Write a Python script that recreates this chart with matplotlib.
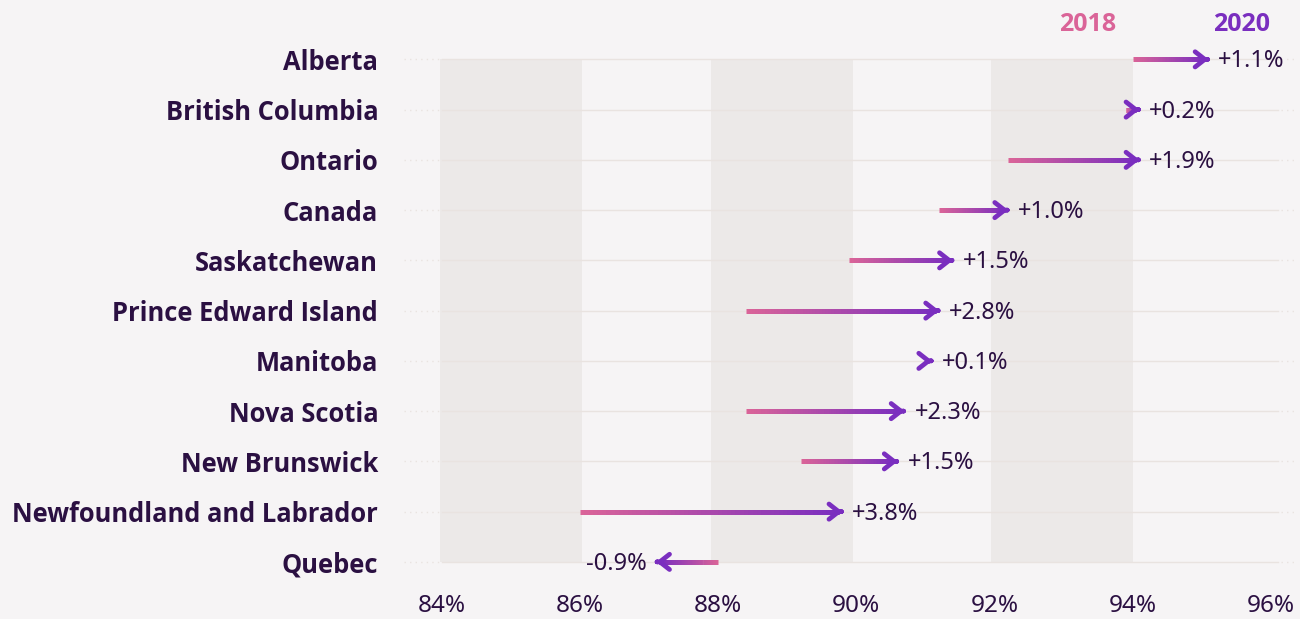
import numpy as np
import matplotlib
matplotlib.use("Agg")
import matplotlib.pyplot as plt
from matplotlib.collections import LineCollection
from matplotlib.colors import LinearSegmentedColormap

# data (share, %), top row first
regions = ["Alberta", "British Columbia", "Ontario", "Canada", "Saskatchewan",
           "Prince Edward Island", "Manitoba", "Nova Scotia", "New Brunswick",
           "Newfoundland and Labrador", "Quebec"]
val_2018 = [94.0, 93.9, 92.2, 91.2, 89.9, 88.4, 91.0, 88.4, 89.2, 86.0, 88.0]
val_2020 = [95.1, 94.1, 94.1, 92.2, 91.4, 91.2, 91.1, 90.7, 90.6, 89.8, 87.1]
change = ["+1.1%", "+0.2%", "+1.9%", "+1.0%", "+1.5%", "+2.8%", "+0.1%",
          "+2.3%", "+1.5%", "+3.8%", "-0.9%"]
xticks = [84, 86, 88, 90, 92, 94, 96]

bg = "#F6F4F5"
band = "#ECE9E8"
grid = "#E9E3E0"
pink = "#DA6498"
purple = "#7A2EBF"
dark = "#2B1042"

plt.rcParams['font.family'] = ['Noto Sans', 'DejaVu Sans']
bold_font = ['Open Sans', 'DejaVu Sans']

fig = plt.figure(figsize=(13, 6.19), dpi=100, facecolor=bg)
ax = fig.add_axes([0.308, 0.0517, 0.6908, 0.893])
ax.set_facecolor(bg)
ax.set_xlim(83.4, 96.4)
ax.set_ylim(10.5, -0.5)
n = len(regions)

# shaded bands (slightly off the ticks, as in the original)
for x0, x1 in [(83.97, 86.03), (87.9, 89.95), (91.95, 94.0)]:
    ax.fill_between([x0, x1], 0, n - 1, color=band, lw=0, zorder=0)

# row lines
for i in range(n):
    ax.plot([84, 96.1], [i, i], color=grid, lw=1, zorder=1)
    ax.plot([83.45, 84], [i, i], color=grid, lw=1, ls=(0, (1, 3)), zorder=1)
    ax.plot([96.15, 96.35], [i, i], color=grid, lw=1, ls=(0, (1, 3)), zorder=1)

cmap = LinearSegmentedColormap.from_list("grad", [pink, purple])
for i in range(n):
    a, b = val_2018[i], val_2020[i]
    sign = 1 if b >= a else -1
    stop = b - sign * 0.05
    xs = np.linspace(a, stop, 61)
    # overlapping pieces so no seams show between them
    segs = [[(xs[k], i), (xs[min(k + 2, len(xs) - 1)], i)] for k in range(len(xs) - 1)]
    lc = LineCollection(segs, colors=cmap(np.linspace(0, 1, len(segs))),
                        linewidths=3.6, capstyle="butt", zorder=3)
    ax.add_collection(lc)
    ax.annotate("", xy=(b, i), xytext=(b - sign * 0.02, i),
                arrowprops=dict(arrowstyle="->,head_length=0.7,head_width=0.55",
                                lw=3.4, color=purple, shrinkA=0, shrinkB=0),
                zorder=4)
    ax.annotate(change[i], xy=(b, i), xytext=(sign * 7, -1.5),
                textcoords="offset points", ha="left" if sign > 0 else "right",
                va="center", fontsize=17, color=dark)

ax.text(93.35, -0.7, "2018", color=pink, fontsize=18, fontweight="bold",
        family=bold_font, ha="center", va="center", clip_on=False)
ax.text(95.58, -0.7, "2020", color=purple, fontsize=18, fontweight="bold",
        family=bold_font, ha="center", va="center", clip_on=False)

ax.set_yticks(range(n))
ax.set_yticklabels(regions, fontsize=18.4, fontweight="bold", color=dark,
                   family=bold_font)
ax.set_xticks(xticks)
ax.set_xticklabels([f"{t}%" for t in xticks], fontsize=17.5, color=dark)
ax.tick_params(axis="both", length=0)
ax.tick_params(axis="y", pad=16)
ax.tick_params(axis="x", pad=5)
for s in ax.spines.values():
    s.set_visible(False)

fig.savefig("out.png", dpi=100, facecolor=bg)
